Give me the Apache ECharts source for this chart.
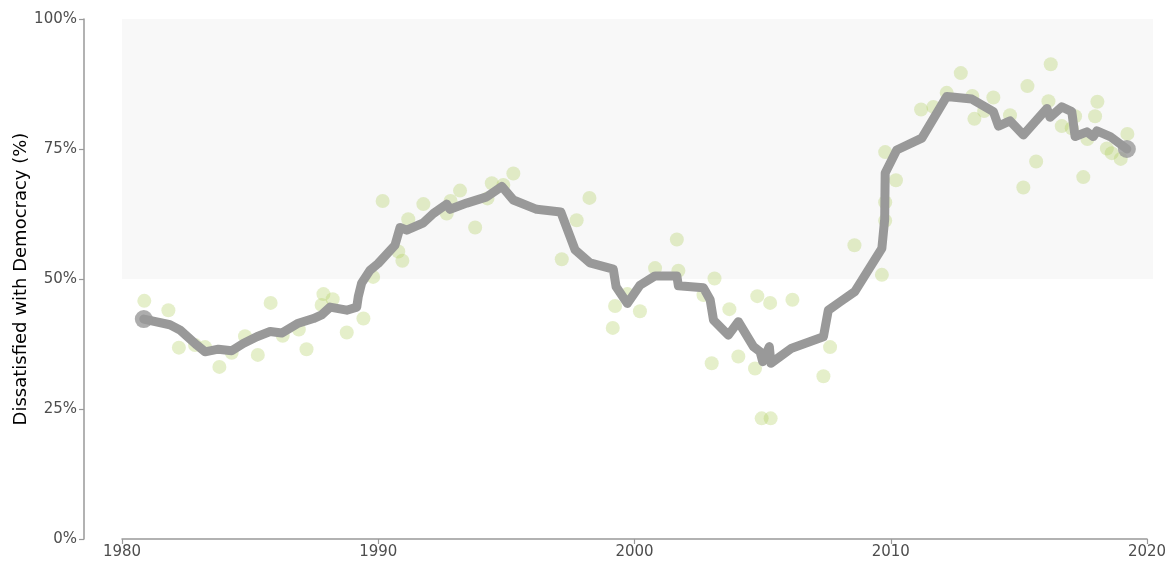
<!DOCTYPE html>
<html>
<head>
<meta charset="utf-8">
<script src="https://cdn.jsdelivr.net/npm/echarts@6/dist/echarts.min.js"></script>
<style>
  html, body { margin: 0; padding: 0; background: #fff; }
  #chart { width: 1165px; height: 561px; }
</style>
</head>
<body>
<div id="chart"></div>
<script>
// Smoothed trend (gray line)
const trendYears = [1980.85, 1981.87, 1982.26, 1982.92, 1983.24, 1983.76, 1984.28, 1984.73, 1985.26, 1985.78,
  1986.23, 1986.88, 1987.47, 1987.79, 1988.12, 1988.77, 1989.16, 1989.22, 1989.35, 1989.68,
  1990.0, 1990.65, 1990.85, 1991.11, 1991.76, 1992.15, 1992.67, 1992.8, 1993.45, 1994.23,
  1994.82, 1995.27, 1996.18, 1997.12, 1997.68, 1998.26, 1999.17, 1999.28, 1999.72, 2000.21,
  2000.8, 2001.65, 2001.71, 2002.69, 2002.95, 2003.08, 2003.66, 2004.05, 2004.64, 2004.9,
  2005.0, 2005.26, 2005.32, 2006.13, 2007.37, 2007.56, 2008.02, 2008.6, 2009.65, 2009.76,
  2009.78, 2010.23, 2011.21, 2012.18, 2013.16, 2014.0, 2014.2, 2014.65, 2015.17, 2016.09,
  2016.21, 2016.67, 2017.06, 2017.19, 2017.65, 2017.9, 2018.04, 2018.56, 2019.21];
const trendValues = [42.3, 41.2, 40.2, 37.3, 36.0, 36.5, 36.2, 37.6, 38.9, 39.9,
  39.6, 41.5, 42.4, 43.1, 44.6, 44.0, 44.6, 46.6, 49.2, 51.7,
  53.0, 56.5, 59.9, 59.4, 60.8, 62.6, 64.4, 63.4, 64.6, 65.8,
  67.8, 65.2, 63.4, 62.9, 55.6, 53.1, 51.9, 48.5, 45.3, 48.8,
  50.6, 50.6, 48.7, 48.3, 46.0, 42.1, 39.2, 41.8, 37.0, 36.0,
  34.1, 37.0, 33.8, 36.7, 38.9, 44.0, 45.6, 47.6, 55.9, 61.5,
  70.4, 74.8, 77.1, 85.1, 84.6, 82.2, 79.4, 80.4, 77.7, 82.8,
  81.1, 83.1, 82.2, 77.4, 78.3, 77.4, 78.5, 77.4, 75.0];

// Individual survey observations (green dots)
const surveyYears = [1980.87, 1981.81, 1982.22, 1982.85, 1983.24, 1983.8, 1984.28, 1984.8, 1985.3, 1985.8,
  1986.27, 1986.9, 1987.2, 1987.79, 1987.86, 1988.22, 1988.77, 1989.42, 1989.8, 1990.17,
  1990.78, 1990.94, 1991.17, 1991.76, 1992.67, 1992.82, 1993.19, 1993.78, 1994.26, 1994.43,
  1994.88, 1995.27, 1997.16, 1997.74, 1998.24, 1999.15, 1999.24, 1999.72, 2000.21, 2000.8,
  2001.65, 2001.71, 2002.69, 2003.01, 2003.12, 2003.7, 2004.05, 2004.7, 2004.79, 2004.96,
  2005.29, 2005.31, 2006.16, 2007.37, 2007.63, 2008.58, 2009.65, 2009.78, 2009.78, 2009.78,
  2010.2, 2011.18, 2011.66, 2012.18, 2012.73, 2013.18, 2013.26, 2013.64, 2014.0, 2014.65,
  2015.17, 2015.33, 2015.67, 2016.15, 2016.24, 2016.67, 2017.06, 2017.19, 2017.51, 2017.67,
  2017.97, 2018.06, 2018.43, 2018.62, 2018.97, 2019.23];
const surveyValues = [45.8, 44.0, 36.8, 37.3, 36.9, 33.1, 35.8, 39.0, 35.4, 45.4,
  39.1, 40.3, 36.5, 45.0, 47.1, 46.1, 39.7, 42.4, 50.4, 65.0,
  55.3, 53.5, 61.5, 64.4, 62.6, 65.0, 67.0, 59.9, 65.5, 68.4,
  68.1, 70.3, 53.8, 61.3, 65.6, 40.6, 44.8, 47.1, 43.8, 52.1,
  57.6, 51.6, 46.9, 33.8, 50.1, 44.2, 35.1, 32.8, 46.7, 23.2,
  45.4, 23.2, 46.0, 31.3, 36.9, 56.5, 50.8, 61.2, 64.75, 74.4,
  69.0, 82.6, 83.1, 85.8, 89.6, 85.2, 80.8, 82.3, 84.9, 81.5,
  67.6, 87.1, 72.6, 84.2, 91.3, 79.4, 79.0, 81.3, 69.6, 76.9,
  81.3, 84.1, 75.1, 74.2, 73.1, 77.9];

// Axis ticks
const xTicks = [1980, 1990, 2000, 2010, 2020];
const yTicks = [0, 25, 50, 75, 100];
// Shaded "majority dissatisfied" band
const bandRange = [50, 100];

const fontFamily = 'DejaVu Sans';
const tickColor = '#4d4d4d';
const axisColor = '#999999';

const trendData = trendYears.map((y, i) => [y, trendValues[i]]);
const surveyData = surveyYears.map((y, i) => [y, surveyValues[i]]);
const endPoints = [trendData[0], trendData[trendData.length - 1]];

const chart = echarts.init(document.getElementById('chart'), null, { renderer: 'canvas' });

chart.setOption({
  animation: false,
  backgroundColor: '#ffffff',
  grid: [
    // data panel (a bit wider than the tick range)
    { left: 122, right: 12, top: 19, bottom: 22, outerBoundsMode: 'none', containLabel: false },
    // panel that only carries the capped x axis
    { left: 122, right: 18, top: 19, bottom: 22, outerBoundsMode: 'none', containLabel: false }
  ],
  xAxis: [
    {
      gridIndex: 0,
      type: 'value',
      min: xTicks[0],
      max: 2020.23,
      show: false
    },
    {
      gridIndex: 1,
      type: 'value',
      min: xTicks[0],
      max: xTicks[xTicks.length - 1],
      interval: 10,
      axisLine: { show: true, lineStyle: { color: axisColor, width: 1.5 } },
      axisTick: { show: true, length: 5, lineStyle: { color: axisColor, width: 1.2 } },
      axisLabel: { color: tickColor, fontSize: 15, fontFamily, margin: 6, formatter: (v) => String(v) },
      splitLine: { show: false }
    }
  ],
  yAxis: [
    {
      gridIndex: 0,
      type: 'value',
      min: yTicks[0],
      max: yTicks[yTicks.length - 1],
      interval: 25,
      offset: 38,
      name: 'Dissatisfied with Democracy (%)',
      nameLocation: 'middle',
      nameGap: 54,
      nameMoveOverlap: false,
      nameTextStyle: { color: '#000', fontSize: 18, fontFamily },
      axisLine: { show: true, lineStyle: { color: axisColor, width: 1.5 } },
      axisTick: { show: true, length: 5, lineStyle: { color: axisColor, width: 1.2 } },
      axisLabel: { color: tickColor, fontSize: 15, fontFamily, margin: 7, formatter: '{value}%' },
      splitLine: { show: false }
    },
    {
      gridIndex: 1,
      type: 'value',
      min: 0,
      max: 100,
      show: false
    }
  ],
  series: [
    {
      type: 'scatter',
      xAxisIndex: 0,
      yAxisIndex: 0,
      data: surveyData,
      symbolSize: 14,
      itemStyle: { color: 'rgba(173, 205, 90, 0.4)' },
      markArea: {
        silent: true,
        itemStyle: { color: '#f8f8f8' },
        data: [[{ xAxis: xTicks[0], yAxis: bandRange[0] }, { xAxis: 2020.23, yAxis: bandRange[1] }]]
      },
      z: 2
    },
    {
      type: 'line',
      xAxisIndex: 0,
      yAxisIndex: 0,
      data: trendData,
      showSymbol: false,
      lineStyle: { color: '#999999', width: 9, cap: 'round', join: 'round' },
      z: 3
    },
    {
      type: 'scatter',
      xAxisIndex: 0,
      yAxisIndex: 0,
      data: endPoints,
      symbolSize: 18,
      itemStyle: { color: '#999999' },
      z: 4
    }
  ]
});
</script>
</body>
</html>
